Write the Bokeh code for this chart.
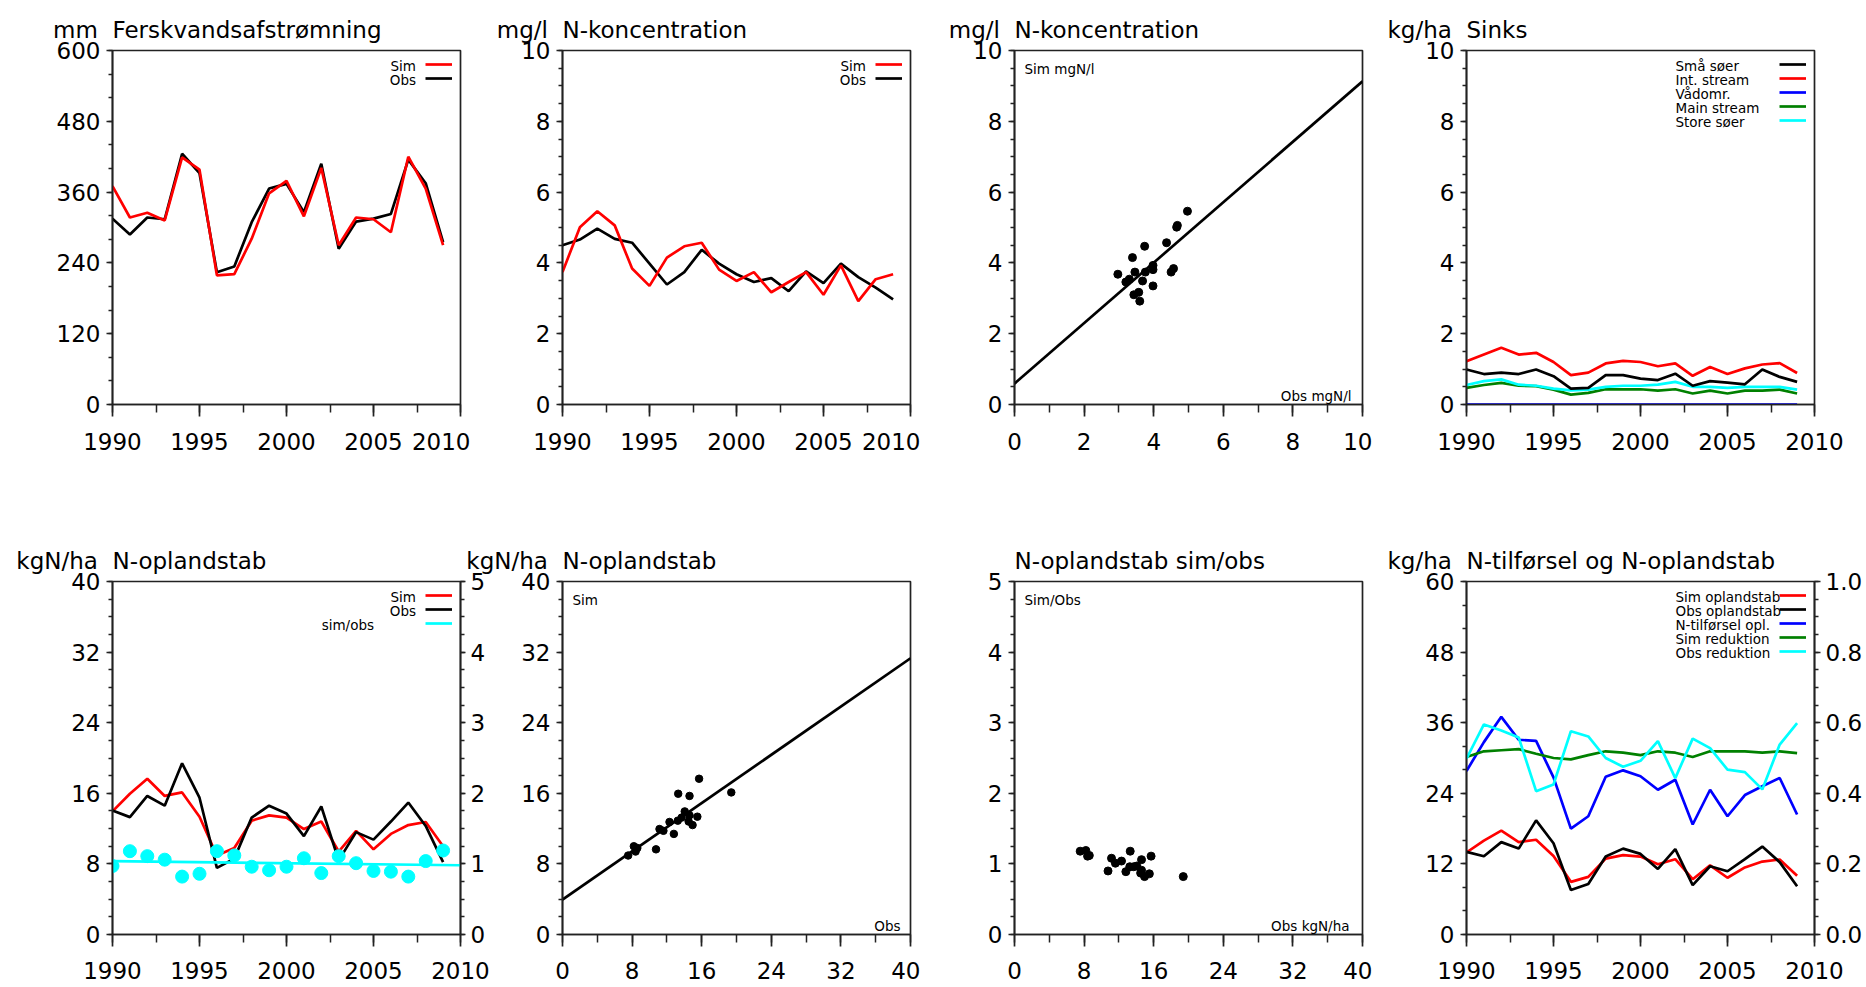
from bokeh.plotting import figure
from bokeh.layouts import row, column
from bokeh.models import (Range1d, LinearAxis, SingleIntervalTicker, Label, Legend,
                          LegendItem, NumeralTickFormatter)
from bokeh.embed import file_html
from bokeh.resources import INLINE

# ---------------- data ----------------
years = [1990, 1991, 1992, 1993, 1994, 1995, 1996, 1997, 1998, 1999,
         2000, 2001, 2002, 2003, 2004, 2005, 2006, 2007, 2008, 2009]

runoff_sim = [370, 317, 325, 312, 419, 398, 219, 221, 281, 358,
              379, 319, 401, 270, 317, 314, 292, 420, 366, 270]
runoff_obs = [315, 288, 317, 314, 425, 392, 224, 234, 309, 366,
              374, 326, 408, 264, 310, 315, 323, 415, 375, 275]

conc_sim = [3.74, 5.01, 5.46, 5.06, 3.84, 3.35, 4.15, 4.47, 4.57, 3.81,
            3.49, 3.74, 3.17, 3.46, 3.74, 3.10, 3.93, 2.92, 3.54, 3.68]
conc_obs = [4.50, 4.66, 4.97, 4.68, 4.57, 3.98, 3.39, 3.74, 4.37, 3.98,
            3.68, 3.46, 3.57, 3.20, 3.76, 3.43, 3.98, 3.60, 3.30, 2.97]
conc_fit_x = [0, 10]
conc_fit_y = [0.59, 9.13]

sink_smaa_soeer = [0.99, 0.86, 0.90, 0.86, 0.99, 0.80, 0.45, 0.47, 0.83, 0.83,
                   0.73, 0.69, 0.87, 0.53, 0.66, 0.62, 0.57, 0.99, 0.78, 0.64]
sink_int_stream = [1.22, 1.41, 1.60, 1.41, 1.46, 1.20, 0.83, 0.90, 1.16, 1.23,
                   1.20, 1.08, 1.16, 0.81, 1.06, 0.86, 1.02, 1.13, 1.17, 0.89]
sink_vaadomr = [0.0, 0.0, 0.0, 0.0, 0.0, 0.0, 0.0, 0.0, 0.0, 0.0,
                0.0, 0.0, 0.0, 0.0, 0.0, 0.0, 0.0, 0.0, 0.0, 0.0]
sink_main_stream = [0.47, 0.55, 0.61, 0.53, 0.52, 0.42, 0.28, 0.33, 0.43, 0.43,
                    0.43, 0.39, 0.43, 0.31, 0.39, 0.31, 0.39, 0.39, 0.42, 0.31]
sink_store_soeer = [0.55, 0.66, 0.71, 0.56, 0.53, 0.45, 0.40, 0.42, 0.50, 0.53,
                    0.53, 0.56, 0.64, 0.50, 0.50, 0.47, 0.50, 0.50, 0.50, 0.42]

loss_sim = [13.95, 15.95, 17.65, 15.70, 16.10, 13.35, 8.95, 9.80, 12.90, 13.50,
            13.25, 11.95, 12.80, 9.40, 11.75, 9.65, 11.40, 12.40, 12.75, 10.00]
loss_obs = [14.05, 13.30, 15.70, 14.60, 19.40, 15.50, 7.55, 8.60, 13.25, 14.60,
            13.70, 11.15, 14.50, 8.40, 11.60, 10.75, 12.80, 14.95, 12.30, 8.20]
loss_ratio = [0.97, 1.18, 1.11, 1.06, 0.82, 0.86, 1.18, 1.12, 0.96, 0.91,
              0.96, 1.08, 0.87, 1.11, 1.01, 0.90, 0.89, 0.82, 1.04, 1.19]
ratio_trend_x = [1990, 2010]
ratio_trend_y = [1.038, 0.981]
loss_fit_x = [0, 40]
loss_fit_y = [3.96, 31.3]

n_input = [27.8, 32.7, 37.0, 33.1, 32.9, 26.7, 18.0, 20.1, 26.8, 27.9,
           26.9, 24.6, 26.3, 18.7, 24.6, 20.1, 23.7, 25.2, 26.6, 20.4]
red_sim = [0.503, 0.519, 0.522, 0.525, 0.512, 0.500, 0.496, 0.508, 0.519, 0.515,
           0.508, 0.519, 0.515, 0.503, 0.519, 0.519, 0.519, 0.515, 0.519, 0.514]
red_obs = [0.498, 0.595, 0.578, 0.558, 0.406, 0.425, 0.576, 0.561, 0.500, 0.475,
           0.492, 0.548, 0.443, 0.555, 0.528, 0.467, 0.460, 0.411, 0.538, 0.599]

# ---------------- styling ----------------
FONT = "DejaVu Sans"
BIGPX = 23
BIG = "23px"
SMALL = "13.5px"
AXC = "#222222"
LW = 2.7
FW = 348
RED, BLACK, BLUE, GREEN, CYAN = "#ff0000", "#000000", "#0000ff", "#008000", "#00ffff"
GAP = "\u00a0\u00a0"

# DejaVu Sans advance widths (per 2048 em) used to place the unit left of the frame
ADV = {"m": 1995, "g": 1300, "/": 690, "l": 569, "k": 1186, "h": 1298,
       "a": 1255, "N": 1532, " ": 651, "\u00a0": 651}


def text_width(s):
    return sum(ADV[c] for c in s) / 2048.0 * BIGPX


def style_axis(ax, interval, minor, tick_out, minor_out, standoff, fmt=None):
    ax.ticker = SingleIntervalTicker(interval=interval, num_minor_ticks=minor)
    if fmt:
        ax.formatter = NumeralTickFormatter(format=fmt)
    ax.axis_line_color = AXC
    ax.axis_line_width = 1.7
    ax.major_tick_line_color = AXC
    ax.major_tick_line_width = 1.7
    ax.minor_tick_line_color = AXC
    ax.minor_tick_line_width = 1.5
    ax.major_tick_in = 0
    ax.major_tick_out = tick_out
    ax.minor_tick_in = 0
    ax.minor_tick_out = minor_out
    ax.major_label_text_font = FONT
    ax.major_label_text_font_size = BIG
    ax.major_label_text_color = "black"
    ax.major_label_standoff = standoff


def make_panel(xr, yr, xt, yt, left, right, top, bottom, fh, title, unit, margin=None):
    kw = {}
    if margin is not None:
        kw["margin"] = margin
    full = (unit + GAP + title) if unit else title
    p = figure(width=left + FW + right, height=top + fh + bottom,
               x_range=Range1d(*xr), y_range=Range1d(*yr), title=full,
               output_backend="svg", toolbar_location=None,
               min_border_left=left, min_border_right=right,
               min_border_top=top, min_border_bottom=bottom, **kw)
    p.title.align = "left"
    p.title.offset = -text_width(unit + GAP) if unit else 0
    p.title.text_font = FONT
    p.title.text_font_size = BIG
    p.title.text_font_style = "normal"
    p.title.text_color = "black"
    p.title.standoff = 16
    p.grid.visible = False
    p.border_fill_alpha = 0
    p.background_fill_color = "white"
    p.outline_line_color = AXC
    p.outline_line_width = 1.7
    style_axis(p.xaxis[0], xt[0], xt[1], 12, 8, xt[2])
    style_axis(p.yaxis[0], yt[0], yt[1], 6, 4, 6)
    return p


def text(p, x, y, s, dx, dy, size=SMALL, align="left", base="alphabetic"):
    p.add_layout(Label(x=x, y=y, x_offset=dx, y_offset=dy, text=s,
                       text_font=FONT, text_font_size=size, text_color="black",
                       text_align=align, text_baseline=base))


def swatches(p, renderers, fh):
    n = len(renderers)
    items = [LegendItem(label=" ", renderers=[r]) for r in renderers]
    leg = Legend(items=items, location=(313, fh - 7 - 14 * n), orientation="vertical",
                 glyph_width=27, glyph_height=14, label_height=14, label_width=0,
                 label_standoff=0, spacing=0, padding=0, margin=0,
                 border_line_alpha=0, background_fill_alpha=0,
                 label_text_font_size="1px")
    p.add_layout(leg)


TH, BH = 354, 353
TT, TB = 50, 62      # top row borders
BT, BB = 115, 53     # bottom row borders
LEG0 = 15.5          # first legend text row below frame top
COR_T, COR_B = 18.5, 8.5

# ---------------- top row ----------------
p1 = make_panel((1990, 2010), (0, 600), (5, 2, 16), (120, 3), 112, 10, TT, TB, TH,
                "Ferskvandsafstrømning", "mm")
r_obs = p1.line(years, runoff_obs, line_color=BLACK, line_width=LW)
r_sim = p1.line(years, runoff_sim, line_color=RED, line_width=LW)
swatches(p1, [r_sim, r_obs], TH)
text(p1, 2010, 600, "Sim", -44.5, -LEG0, align="right")
text(p1, 2010, 600, "Obs", -44.5, -(LEG0 + 14), align="right")

p2 = make_panel((1990, 2010), (0, 10), (5, 2, 16), (2, 4), 92, 10, TT, TB, TH,
                "N-koncentration", "mg/l")
c_obs = p2.line(years, conc_obs, line_color=BLACK, line_width=LW)
c_sim = p2.line(years, conc_sim, line_color=RED, line_width=LW)
swatches(p2, [c_sim, c_obs], TH)
text(p2, 2010, 10, "Sim", -44.5, -LEG0, align="right")
text(p2, 2010, 10, "Obs", -44.5, -(LEG0 + 14), align="right")

p3 = make_panel((0, 10), (0, 10), (2, 2, 16), (2, 4), 94, 10, TT, TB, TH,
                "N-koncentration", "mg/l")
p3.line(conc_fit_x, conc_fit_y, line_color=BLACK, line_width=LW)
p3.scatter(conc_obs, conc_sim, marker="circle", size=8, color=BLACK)
text(p3, 0, 10, "Sim mgN/l", 10, -COR_T)
text(p3, 10, 0, "Obs mgN/l", -11, COR_B, align="right")

p4 = make_panel((1990, 2010), (0, 10), (5, 2, 16), (2, 4), 94, 52, TT, TB, TH,
                "Sinks", "kg/ha")
s_va = p4.line(years, sink_vaadomr, line_color=BLUE, line_width=LW)
s_ms = p4.line(years, sink_main_stream, line_color=GREEN, line_width=LW)
s_ss = p4.line(years, sink_store_soeer, line_color=CYAN, line_width=LW)
s_sm = p4.line(years, sink_smaa_soeer, line_color=BLACK, line_width=LW)
s_is = p4.line(years, sink_int_stream, line_color=RED, line_width=LW)
swatches(p4, [s_sm, s_is, s_va, s_ms, s_ss], TH)
for i, lab in enumerate(["Små søer", "Int. stream", "Vådomr.", "Main stream", "Store søer"]):
    text(p4, 1990, 10, lab, 209, -(LEG0 + 14 * i))

# ---------------- bottom row ----------------
p5 = make_panel((1990, 2010), (0, 40), (5, 2, 15), (8, 4), 112, 35, BT, BB, BH,
                "N-oplandstab", "kgN/ha")
p5.extra_y_ranges = {"r": Range1d(0, 5)}
ax5 = LinearAxis(y_range_name="r")
style_axis(ax5, 1, 4, 5, 4, 5)
p5.add_layout(ax5, "right")
l_sim = p5.line(years, loss_sim, line_color=RED, line_width=LW)
l_obs = p5.line(years, loss_obs, line_color=BLACK, line_width=LW)
l_tr = p5.line(ratio_trend_x, ratio_trend_y, line_color=CYAN, line_width=LW, y_range_name="r")
p5.scatter(years, loss_ratio, marker="circle", size=13, color=CYAN, y_range_name="r")
swatches(p5, [l_sim, l_obs, l_tr], BH)
text(p5, 2010, 40, "Sim", -44.5, -LEG0, align="right")
text(p5, 2010, 40, "Obs", -44.5, -(LEG0 + 14), align="right")
text(p5, 2010, 40, "sim/obs", -86.5, -(LEG0 + 28), align="right")

p6 = make_panel((0, 40), (0, 40), (8, 2, 15), (8, 4), 107, 10, BT, BB, BH,
                "N-oplandstab", "kgN/ha", margin=(0, 0, 0, -40))
p6.line(loss_fit_x, loss_fit_y, line_color=BLACK, line_width=LW)
p6.scatter(loss_obs, loss_sim, marker="circle", size=7.5, color=BLACK)
text(p6, 0, 40, "Sim", 10, -COR_T)
text(p6, 40, 0, "Obs", -10, COR_B, align="right")

p7 = make_panel((0, 40), (0, 5), (8, 2, 15), (1, 4), 94, 10, BT, BB, BH,
                "N-oplandstab sim/obs", None)
p7.scatter(loss_obs, loss_ratio, marker="circle", size=8, color=BLACK)
text(p7, 0, 5, "Sim/Obs", 10, -COR_T)
text(p7, 40, 0, "Obs kgN/ha", -13, COR_B, align="right")

p8 = make_panel((1990, 2010), (0, 60), (5, 2, 15), (12, 3), 94, 52, BT, BB, BH,
                "N-tilførsel og N-oplandstab", "kg/ha")
p8.extra_y_ranges = {"r": Range1d(0, 1)}
ax8 = LinearAxis(y_range_name="r")
style_axis(ax8, 0.2, 4, 6, 4, 5, fmt="0.0")
p8.add_layout(ax8, "right")
t_sim = p8.line(years, loss_sim, line_color=RED, line_width=LW)
t_obs = p8.line(years, loss_obs, line_color=BLACK, line_width=LW)
t_in = p8.line(years, n_input, line_color=BLUE, line_width=LW)
t_rs = p8.line(years, red_sim, line_color=GREEN, line_width=LW, y_range_name="r")
t_ro = p8.line(years, red_obs, line_color=CYAN, line_width=LW, y_range_name="r")
swatches(p8, [t_sim, t_obs, t_in, t_rs, t_ro], BH)
for i, lab in enumerate(["Sim oplandstab", "Obs oplandstab", "N-tilførsel opl.",
                         "Sim reduktion", "Obs reduktion"]):
    text(p8, 1990, 60, lab, 209, -(LEG0 + 14 * i))

layout = column(row(p1, p2, p3, p4), row(p5, p6, p7, p8))
open("out.html", "w").write(file_html(layout, INLINE))
